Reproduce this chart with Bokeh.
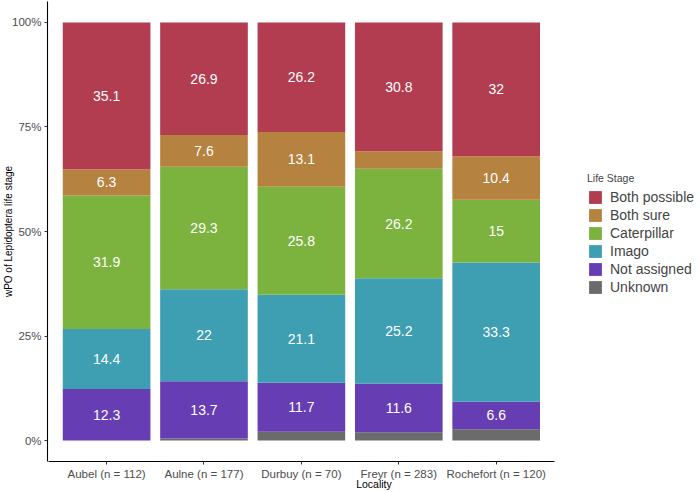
from bokeh.plotting import figure
from bokeh.models import (Range1d, FixedTicker, PrintfTickFormatter,
                          Legend, LegendItem, ColumnDataSource)
from bokeh.core.properties import value
from bokeh.embed import file_html
from bokeh.resources import INLINE

localities = ["Aubel (n = 112)", "Aulne (n = 177)", "Durbuy (n = 70)",
              "Freyr (n = 283)", "Rochefort (n = 120)"]
# stacked from bottom to top
stages = ["Unknown", "Not assigned", "Imago", "Caterpillar", "Both sure", "Both possible"]
unknown = [0.0, 0.5, 2.1, 2.0, 2.7]
not_assigned = [12.3, 13.7, 11.7, 11.6, 6.6]
imago = [14.4, 22.0, 21.1, 25.2, 33.3]
caterpillar = [31.9, 29.3, 25.8, 26.2, 15.0]
both_sure = [6.3, 7.6, 13.1, 4.2, 10.4]
both_possible = [35.1, 26.9, 26.2, 30.8, 32.0]
colors = ["#6B6B6B", "#663DB3", "#3E9EB2", "#7BB33E", "#B6823F", "#B23C50"]
y_ticks = [0, 25, 50, 75, 100]

FONT = "Liberation Sans"
series = [unknown, not_assigned, imago, caterpillar, both_sure, both_possible]
xpos = [i + 1 for i in range(len(localities))]
data = {"x": xpos}
for s, v in zip(stages, series):
    data[s] = v
source = ColumnDataSource(data)

FRAME_LEFT = 48      # expected left axis panel width (px)
FRAME_BOTTOM = 462   # expected frame bottom (px from top)
PX_PER_CAT = 97.25
PX_PER_PCT = 4.19
x_start = 1 + (FRAME_LEFT - 107) / PX_PER_CAT
x_end = 1 + (700 - 107) / PX_PER_CAT
y_end = 100 + (22 - 1) / PX_PER_PCT
y_start = -(FRAME_BOTTOM - 441) / PX_PER_PCT

p = figure(x_range=Range1d(x_start, x_end), y_range=Range1d(y_start, y_end),
           width=700, height=492, output_backend="svg", toolbar_location=None,
           min_border_left=40, min_border_right=0, min_border_top=1,
           min_border_bottom=20)
p.outline_line_color = None
p.grid.visible = False

renderers = p.vbar_stack(stages, x="x", width=0.9, source=source,
                         color=colors, line_color=None)

# labels at segment centres
lx, ly, lt = [], [], []
for i, xp in enumerate(xpos):
    base = 0.0
    for v in series:
        v_i = v[i]
        if v_i >= 5:
            lx.append(xp)
            ly.append(base + v_i / 2)
            lt.append("%g" % v_i)
        base += v_i
p.text(x=lx, y=ly, text=lt, text_align="center", text_baseline="middle",
       text_color="white", text_font=value(FONT), text_font_size="14px")

for ax in (p.xaxis[0], p.yaxis[0]):
    ax.axis_line_color = "black"
    ax.axis_line_width = 1.1
    ax.major_tick_line_color = "#333333"
    ax.major_tick_out = 3
    ax.major_tick_in = 0
    ax.minor_tick_line_color = None
    ax.major_label_text_font = FONT
    ax.major_label_text_color = "#4D4D4D"
    ax.axis_label_text_font = FONT
    ax.axis_label_text_font_style = "normal"
    ax.axis_label_text_color = "black"

p.xaxis.axis_label = "Locality"
p.xaxis.ticker = FixedTicker(ticks=xpos)
p.xaxis.major_label_overrides = {xp: name for xp, name in zip(xpos, localities)}
p.xaxis.bounds = (0.4, len(localities) + 0.6)
p.xaxis.major_label_text_font_size = "11.5px"
p.xaxis.axis_label_text_font_size = "10.5px"
p.xaxis.major_label_standoff = 3
p.xaxis.axis_label_standoff = -5

p.yaxis.axis_label = "wPO of Lepidoptera life stage"
p.yaxis.ticker = FixedTicker(ticks=y_ticks)
p.yaxis.formatter = PrintfTickFormatter(format="%d%%")
p.yaxis.major_label_text_font_size = "11.5px"
p.yaxis.axis_label_text_font_size = "10px"
p.yaxis.major_label_standoff = 3
p.yaxis.axis_label_standoff = -5

items = [LegendItem(label=s, renderers=[r]) for s, r in zip(stages, renderers)][::-1]
legend = Legend(items=items, location=(588 - FRAME_LEFT, FRAME_BOTTOM - 296),
                title="Life Stage",
                title_text_font=FONT, title_text_font_size="10.5px",
                title_text_font_style="normal", title_standoff=4,
                label_text_font=FONT, label_text_font_size="14px",
                label_height=17, glyph_height=16, glyph_width=16, spacing=1,
                label_standoff=7, padding=0, margin=0,
                border_line_color=None, background_fill_alpha=0)
p.add_layout(legend, "center")

open("out.html", "w").write(file_html(p, INLINE))
